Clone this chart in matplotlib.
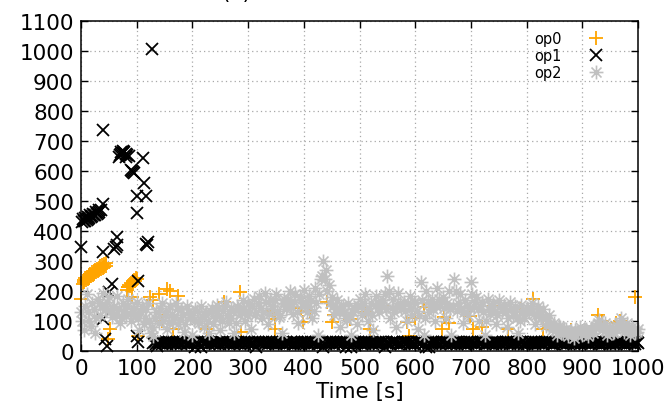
import numpy as np
import matplotlib
matplotlib.use("Agg")
import matplotlib.pyplot as plt
from matplotlib.path import Path

# ---------------- data ----------------
# op0 (orange +)
op0_time = [0, 3, 6, 9, 12, 15, 18, 21, 24, 27, 30, 33, 36, 39, 42, 45,
            5, 8, 11, 14, 17, 20, 23, 26, 29, 32, 35, 38, 41, 44,
            82, 85, 88, 91, 94, 97, 100, 84, 87, 90, 93, 96, 99,
            49, 52, 91, 102, 124, 145, 154, 160, 166, 140, 130, 175,
            226, 256, 285, 288, 345, 348, 348, 399, 411, 441, 450, 483,
            519, 540, 585, 588, 615, 651, 648, 698, 704, 767, 788, 812,
            830, 929, 935, 968, 995, 510, 395, 455, 600, 660, 720, 742, 880, 960]
op0_value = [175, 225, 230, 236, 240, 245, 250, 254, 258, 262, 266, 270, 273, 277, 280, 284,
             238, 243, 248, 253, 258, 262, 266, 270, 274, 278, 282, 286, 290, 294,
             205, 212, 218, 224, 229, 235, 240, 214, 220, 226, 232, 238, 244,
             40, 73, 180, 50, 180, 101, 207, 201, 73, 190, 170, 185,
             73, 162, 196, 62, 134, 107, 73, 96, 134, 162, 96, 107,
             73, 151, 96, 51, 146, 112, 73, 118, 73, 73, 140, 173,
             73, 120, 101, 101, 179, 130, 145, 120, 110, 95, 80, 150, 70, 95]

# op1 (black x): early scattered points
op1_time = [0, 2, 5, 8, 10, 13, 15, 18, 20, 23, 25, 28, 30, 33, 36, 40,
            4, 7, 12, 17, 22, 27, 32,
            40, 40, 40, 43, 46, 50, 55, 60, 62, 64, 64,
            68, 70, 72, 75, 78, 80, 83, 86, 71, 76, 81,
            89, 91, 93, 95, 100, 100, 117, 113, 112, 103, 100, 103,
            116, 118, 120, 127, 136]
op1_value = [346, 430, 432, 435, 437, 440, 443, 446, 449, 452, 455, 458, 461, 465, 470, 490,
             440, 444, 447, 452, 458, 463, 470,
             738, 329, 107, 40, 18, 196, 223, 340, 348, 352, 379,
             648, 652, 656, 660, 662, 658, 655, 650, 664, 668, 646,
             603, 600, 598, 595, 460, 518, 518, 560, 642, 234, 51, 29,
             357, 352, 362, 1008, 18]

# op1 baseline (black x) after ~130 s
op1_base_time = list(range(130, 1001, 5))
op1_base_value = [
    26, 25, 27, 24, 26, 25, 28, 26, 25, 27, 24, 26, 25, 27, 26, 12, 25, 14,
    26, 27, 25, 26, 24, 27, 25, 26, 28, 25, 26, 24, 27, 25, 26, 25, 27, 26,
    25, 12, 26, 27, 25, 24, 26, 27, 25, 26, 28, 25, 26, 27, 25, 24, 26, 25,
    27, 26, 25, 26, 27, 24, 26, 13, 25, 27, 26, 25, 26, 27, 25, 12, 26, 13,
    25, 26, 27, 25, 24, 26, 27, 25, 26, 25, 27, 12, 26, 25, 27, 26, 25, 24,
    26, 27, 25, 26, 25, 27, 26, 24, 12, 13, 25, 26, 27, 25, 26, 24, 27, 25,
    26, 25, 27, 26, 25, 24, 26, 27, 25, 26, 28, 25, 26, 27, 25, 24, 26, 25,
    27, 26, 25, 26, 27, 24, 26, 25, 25, 27, 26, 25, 26, 27, 25, 26, 26, 25,
    25, 26, 27, 25, 24, 26, 27, 25, 26, 25, 27, 26, 26, 25, 27, 26, 25, 24,
    26, 27, 25, 26, 25, 27, 26, 24, 25, 26, 27, 25, 26]
op1_base_time_b = [132.5 + 5 * k for k in range(174)]
op1_base_value_b = [
    29, 30, 28, 29, 31, 29, 30, 28, 29, 30, 31, 29, 28, 30, 29, 30, 28, 29,
    30, 29, 31, 28, 29, 30, 29, 28, 30, 31, 29, 30, 28, 29, 30, 29, 31, 28,
    29, 30, 28, 29, 31, 29, 30, 28, 29, 30, 31, 29, 28, 30, 29, 30, 28, 29,
    30, 29, 31, 28, 29, 30, 29, 28, 30, 31, 29, 30, 28, 29, 30, 29, 31, 28,
    29, 30, 28, 29, 31, 29, 30, 28, 29, 30, 31, 29, 28, 30, 29, 30, 28, 29,
    30, 29, 31, 28, 29, 30, 29, 28, 30, 31, 29, 30, 28, 29, 30, 29, 31, 28,
    29, 30, 28, 29, 31, 29, 30, 28, 29, 30, 31, 29, 28, 30, 29, 30, 28, 29,
    30, 29, 31, 28, 29, 30, 29, 28, 30, 31, 29, 30, 28, 29, 30, 29, 31, 28,
    29, 30, 28, 29, 31, 29, 30, 28, 29, 30, 31, 29, 28, 30, 29, 30, 28, 29,
    30, 29, 31, 28, 29, 30, 29, 28, 30, 31, 29, 30]

# op2 (gray *), sampled every 5 s, plus intermediate samples
op2_time = list(range(0, 1001, 5))
op2_value = [
    130, 70, 190, 100, 160, 60, 175, 120, 195, 140, 180, 115, 150, 185, 95, 160,
    120, 175, 100, 145, 165, 70, 150, 110, 160, 60, 50, 130, 95, 160, 120, 75,
    150, 105, 160, 90, 140, 65, 150, 115, 55, 140, 100, 150, 80, 130, 60, 145,
    110, 155, 70, 135, 165, 95, 140, 60, 150, 120, 170, 100, 160, 75, 175, 130,
    185, 110, 195, 90, 170, 140, 190, 115, 60, 175, 150, 200, 125, 190, 95, 170,
    205, 130, 185, 110, 210, 55, 240, 300, 270, 220, 180, 120, 170, 80, 150, 110,
    160, 55, 140, 90, 175, 120, 190, 100, 160, 70, 185, 130, 150, 190, 250, 110,
    175, 80, 195, 140, 165, 100, 185, 120, 160, 75, 230, 55, 200, 130, 175, 100,
    210, 150, 180, 110, 200, 55, 240, 135, 190, 95, 170, 120, 230, 150, 180, 100,
    165, 55, 175, 125, 160, 90, 170, 135, 155, 80, 165, 120, 150, 60, 155, 110,
    145, 130, 160, 90, 150, 115, 140, 85, 120, 70, 95, 55, 80, 60, 75, 50,
    70, 45, 65, 80, 55, 70, 50, 75, 60, 85, 105, 70, 95, 55, 80, 60,
    75, 90, 110, 65, 95, 55, 80, 60, 75]
op2_time_b = [2.5 + 5 * k for k in range(200)]
op2_value_b = [
    100, 150, 130, 85, 140, 110,
    160, 150, 140, 165, 130, 145,
    125, 140, 110, 135, 150, 125, 140, 120,
    110, 130, 90, 140, 100, 80,
    110, 130, 145, 100, 130, 95, 125, 115, 140, 105, 120, 90, 130, 120, 105, 135,
    95, 115, 125, 100, 130, 90,
    135, 120, 100, 150, 120, 110, 135, 95, 145, 130, 140, 120,
    130, 150, 120, 160, 145, 130, 165, 125, 150, 170, 135, 120, 160, 140, 175, 150,
    165, 130, 180, 150,
    165, 150, 170, 135, 160, 190, 250, 240, 200, 160,
    150, 140, 130, 150, 130, 105, 120, 130, 145, 155,
    150, 160, 130, 145, 120, 150, 160, 155, 170, 140, 200, 145,
    130, 150, 160, 150, 135, 160, 145, 165, 135, 120, 170, 110,
    165, 150, 140, 150, 175, 165, 145, 160, 140, 150, 200, 160, 145, 130, 150, 145,
    190, 165, 140, 150, 130, 100, 140, 150, 130, 120, 150, 145, 130, 110, 140, 130,
    110, 100, 135, 125,
    140, 145, 125, 120, 130, 110, 110, 100,
    90, 80, 70, 85, 65, 70, 60, 65, 60, 70, 65, 60, 70, 75, 65, 70,
    80, 95, 85, 80, 70, 75, 70, 65, 85, 95, 85, 80, 75, 70, 70, 65]

x_ticks = [0, 100, 200, 300, 400, 500, 600, 700, 800, 900, 1000]
y_ticks = [0, 100, 200, 300, 400, 500, 600, 700, 800, 900, 1000, 1100]
series_labels = ["op0", "op1", "op2"]
x_label = "Time [s]"

# ---------------- style ----------------
plt.rcParams['font.family'] = ['DejaVu Sans']
W, H = 672, 410
fig = plt.figure(figsize=(W / 100, H / 100), dpi=100)
ax = fig.add_axes([81 / W, 1 - 352 / H, (638 - 81) / W, (352 - 22) / H])

star = Path([(-1, 0), (1, 0), (0, -1), (0, 1),
             (-0.72, -0.72), (0.72, 0.72), (-0.72, 0.72), (0.72, -0.72)],
            [Path.MOVETO, Path.LINETO] * 4)

ax.plot(op0_time, op0_value, linestyle='none', marker='+', ms=9.5, mew=1.3,
        color='#FFA500', label=series_labels[0], clip_on=False)
ax.plot(op1_time + op1_base_time + op1_base_time_b,
        op1_value + op1_base_value + op1_base_value_b, linestyle='none',
        marker='x', ms=8.5, mew=1.3, color='black', label=series_labels[1],
        clip_on=False)
ax.plot(op2_time + op2_time_b, op2_value + op2_value_b, linestyle='none',
        marker=star, ms=10, mew=1.2, color='#C0C0C0', markerfacecolor='none',
        label=series_labels[2], clip_on=False)

ax.set_xlim(0, 1000)
ax.set_ylim(0, 1100)
ax.set_xticks(x_ticks)
ax.set_yticks(y_ticks)
ax.tick_params(direction='in', length=5, width=1.0, top=True, right=True,
               labelsize=15.5, pad=5, colors='black')
ax.grid(True, color='#a8a8a8', linestyle=(0, (1, 2.5)), linewidth=0.9)
ax.set_axisbelow(True)
for s in ax.spines.values():
    s.set_linewidth(1.1)
ax.set_xlabel(x_label, fontsize=15.5, labelpad=2)

leg = ax.legend(loc='upper right', bbox_to_anchor=(0.958, 1.0), frameon=False,
                markerfirst=False, fontsize=10.5, handlelength=1.2,
                handletextpad=1.7, labelspacing=0.12, borderpad=0.2)

fig.text(236 / W, 1.0 + 1 / H, "(a)", ha='center', va='baseline', fontsize=15.5)

fig.savefig("out.png", dpi=100)
